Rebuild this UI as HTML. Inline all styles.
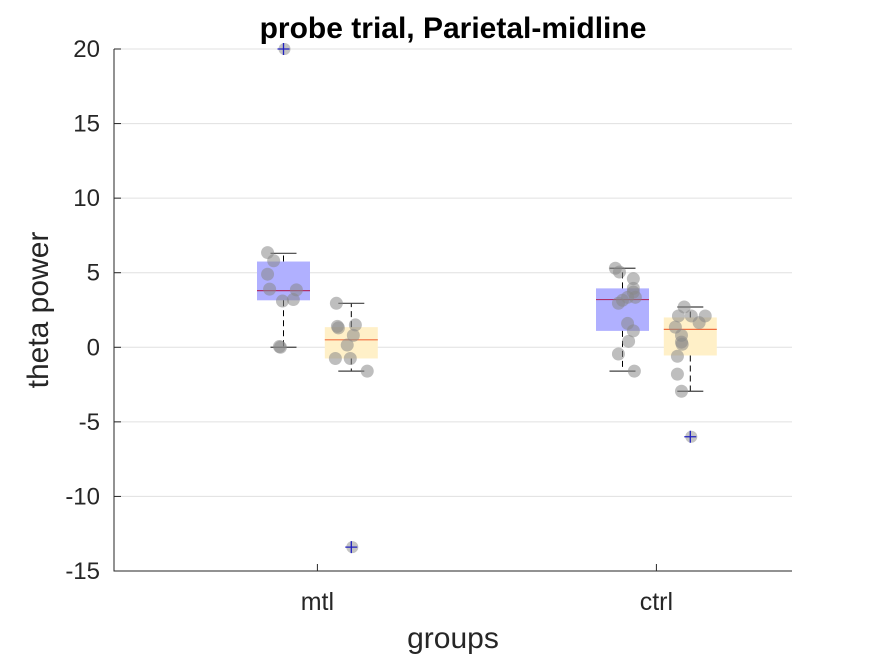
<!DOCTYPE html>
<html><head><meta charset="utf-8"><style>
html,body{margin:0;padding:0;background:#fff;}
svg{display:block;font-family:"Liberation Sans",Arial,sans-serif;}
</style></head><body>
<svg id="chart" width="875" height="656" viewBox="0 0 875 656">
<g id="grid"></g><g id="axes"></g><g id="marks"></g>
<text x="453" y="38" text-anchor="middle" font-size="30" font-weight="bold" fill="#000">probe trial, Parietal-midline</text>
<text x="453" y="648" text-anchor="middle" font-size="30" fill="#262626">groups</text>
<text transform="translate(48,310) rotate(-90)" text-anchor="middle" font-size="30" fill="#262626">theta power</text>
</svg>
<script>
const categories=["mtl","ctrl"];
const yTicks=[20,15,10,5,0,-5,-10,-15];
// per box: [q1, median, q3, whiskerLow, whiskerHigh]
const boxStats=[[3.15,3.8,5.75,0,6.3],[-0.75,0.5,1.35,-1.6,2.95],[1.1,3.2,3.95,-1.6,5.3],[-0.55,1.2,2.0,-2.95,2.7]];
const boxGroup=[0,0,1,1];
const boxOffset=[-0.1,0.1,-0.1,0.1];
const boxColor=["#b0b0ff","#fff0c8","#b0b0ff","#fff0c8"];
const medColor=["#b0306a","#f07040","#b0306a","#f07040"];
const outliers=[[20],[-13.4],[],[-6]];
const pointValues=[
 [6.35,5.8,4.9,3.9,3.85,3.1,3.2,0.0,0.05],
 [2.95,1.3,1.4,1.5,0.8,0.15,-0.75,-0.75,-1.6],
 [5.3,5.05,4.6,3.95,3.7,3.35,3.15,2.95,3.35,1.6,1.1,0.4,-0.45,-1.6],
 [2.7,2.1,2.1,2.1,1.65,1.35,0.8,0.35,0.2,-0.6,-1.8,-2.95]];
const pointJitter=[
 [-0.047,-0.029,-0.047,-0.041,0.038,-0.003,0.029,-0.009,-0.012],
 [-0.044,-0.038,-0.041,0.012,0.006,-0.012,-0.047,-0.003,0.047],
 [-0.021,-0.009,0.032,0.032,0.032,0.038,0.0,-0.012,0.015,0.015,0.032,0.018,-0.012,0.035],
 [-0.018,-0.035,0.003,0.044,0.026,-0.044,-0.026,-0.026,-0.024,-0.038,-0.038,-0.026]];
const X0=114,X1=792,Y0=49,Y1=571,YMAX=20,YMIN=-15;
const XMIN=-0.6,XMAX=1.4;
const xScale=v=>X0+(v-XMIN)*(X1-X0)/(XMAX-XMIN);
function xPos(g,off){return xScale(g+off);}
const yScale=v=>Y0+(YMAX-v)*(Y1-Y0)/(YMAX-YMIN);
const NS="http://www.w3.org/2000/svg";
function mk(parent,tag,attrs){const e=document.createElementNS(NS,tag);for(const k in attrs)e.setAttribute(k,attrs[k]);document.getElementById(parent).appendChild(e);return e;}
yTicks.forEach(t=>{const y=yScale(t);
 const g=mk("grid","line",{x1:X0,x2:X1,y1:y,y2:y,stroke:"#e0e0e0","stroke-width":1});
 
 
 const tk=mk("axes","line",{x1:X0,x2:X0+7,y1:y,y2:y,stroke:"#262626"});
 
 
 const tx=mk("axes","text",{x:X0-14,y:y+8,"text-anchor":"end","font-size":24,fill:"#262626"});
 tx.textContent=t;
 
 
});
const ax=mk("axes","path",{d:`M${X0},${Y0}V${Y1}H${X1}`,fill:"none",stroke:"#262626","stroke-width":1});


categories.forEach((c,i)=>{const x=xScale(i);
 const tk=mk("axes","line",{x1:x,x2:x,y1:Y1,y2:Y1-7,stroke:"#262626"});
 
 
 const tx=mk("axes","text",{x:x,y:Y1+39,"text-anchor":"middle","font-size":25,fill:"#262626"});
 tx.textContent=c;
 
 
});
const W=53;
const PX=(X1-X0)/(XMAX-XMIN);
boxStats.forEach((s,i)=>{
 const cx=xPos(boxGroup[i],boxOffset[i]);
 const [q1,md,q3,wl,wh]=s;
 const r=mk("marks","rect",{x:cx-W/2,y:yScale(q3),width:W,height:yScale(q1)-yScale(q3),fill:boxColor[i]});
 
 
 const m=mk("marks","line",{x1:cx-W/2,x2:cx+W/2,y1:yScale(md),y2:yScale(md),stroke:medColor[i],"stroke-width":1.2});
 
 
 [[q3,wh],[q1,wl]].forEach(p=>{
  const w=mk("marks","line",{x1:cx,x2:cx,y1:yScale(p[0]),y2:yScale(p[1]),stroke:"#000","stroke-dasharray":"6,4"});
  
  
  const cap=mk("marks","line",{x1:cx-13,x2:cx+13,y1:yScale(p[1]),y2:yScale(p[1]),stroke:"#404040","stroke-width":1.2});
  
  
 });
 pointValues[i].forEach((v,j)=>{
  const c=mk("marks","circle",{cx:cx+pointJitter[i][j]*PX,cy:yScale(v),r:6.5,fill:"#888","fill-opacity":0.55});
  
  
 });
 outliers[i].forEach(v=>{
  const y=yScale(v);
  const c=mk("marks","circle",{cx:cx+1,cy:y,r:6,fill:"#888","fill-opacity":0.5});
  
  
  const p=mk("marks","path",{d:`M${cx-6},${y}H${cx+6}M${cx},${y-6}V${y+6}`,stroke:"#2020c0","stroke-width":1.3});
  
  
 });
});
</script>
</body></html>
